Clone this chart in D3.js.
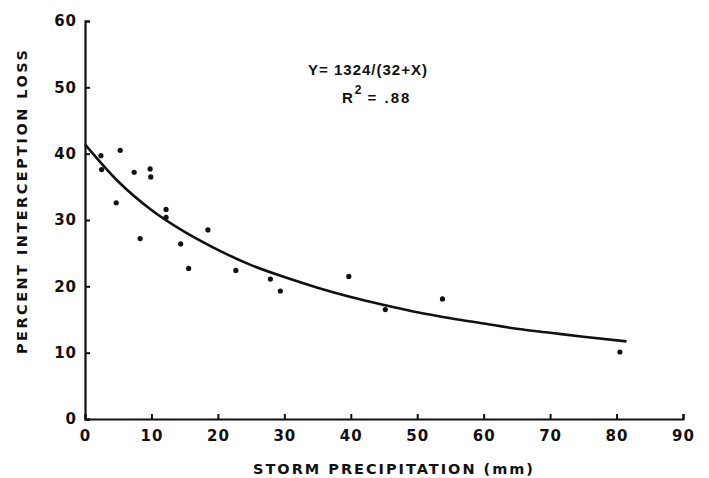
<!DOCTYPE html>
<html>
<head>
<meta charset="utf-8">
<script src="https://cdn.jsdelivr.net/npm/d3@7"></script>
<style>
  html, body { margin: 0; padding: 0; background: #fff; }
  svg { display: block; }
  text { font-family: "DejaVu Sans", "Liberation Sans", Arial, sans-serif; font-weight: bold; fill: #111; }
</style>
</head>
<body>
<svg id="chart" width="709" height="478"></svg>
<script>
// Observed storms: precipitation (mm) and percent interception loss
const stormPrecip = [2.4, 2.5, 5.3, 7.4, 9.8, 9.9, 4.7, 12.2, 12.2, 8.3, 14.4, 18.5, 15.6, 22.7, 27.9, 29.4, 39.7, 45.2, 53.8, 80.5];
const interceptLoss = [39.7, 37.6, 40.5, 37.2, 37.7, 36.5, 32.6, 31.6, 30.4, 27.2, 26.4, 28.5, 22.7, 22.4, 21.1, 19.3, 21.5, 16.5, 18.1, 10.1];

// Fitted curve
const curveX = [0, 5, 10, 15, 20, 25, 30, 35, 40, 45, 50, 55, 60, 65, 70, 75, 81.5];
const curveY = [41.4, 35.8, 31.5, 28.2, 25.5, 23.2, 21.4, 19.8, 18.4, 17.2, 16.1, 15.2, 14.4, 13.6, 13.0, 12.4, 11.7];

const xTicks = [0, 10, 20, 30, 40, 50, 60, 70, 80, 90];
const yTicks = [0, 10, 20, 30, 40, 50, 60];

const xTitle = "STORM PRECIPITATION (mm)";
const yTitle = "PERCENT INTERCEPTION LOSS";
const eqLine1 = "Y= 1324/(32+X)";

const FONT = '"DejaVu Sans", "Liberation Sans", Arial, sans-serif';
const FONT2 = '"Liberation Sans", Arial, sans-serif';
const svg = d3.select("#chart");
const x = d3.scaleLinear().domain([0, 90]).range([85, 683]);
const y = d3.scaleLinear().domain([0, 60]).range([419, 21]);

// Axes
const xAxis = d3.axisBottom(x).tickValues(xTicks).tickSize(-5).tickPadding(11).tickFormat(d3.format("d"));
const yAxis = d3.axisLeft(y).tickValues(yTicks).tickSize(-5).tickPadding(9).tickFormat(d3.format("d"));

const gx = svg.append("g").attr("transform", `translate(0,${y(0)})`).call(xAxis);
const gy = svg.append("g").attr("transform", `translate(${x(0)},0)`).call(yAxis);

[gx, gy].forEach(g => {
  g.select(".domain").attr("stroke", "#111").attr("stroke-width", 2.2);
  g.selectAll(".tick line").attr("stroke", "#111").attr("stroke-width", 2);
  g.selectAll(".tick text")
    .style("font-family", FONT)
    .style("font-weight", "bold")
    .style("font-size", "15px")
    .style("letter-spacing", "1px")
    .attr("fill", "#111");
});
gy.selectAll(".tick text").attr("dx", "1");

// Curve
const line = d3.line().x((d, i) => x(curveX[i])).y(d => y(d)).curve(d3.curveMonotoneX);
svg.append("path")
  .datum(curveY)
  .attr("d", line)
  .attr("fill", "none")
  .attr("stroke", "#111")
  .attr("stroke-width", 2.6);

// Points
svg.append("g").selectAll("circle")
  .data(stormPrecip)
  .join("circle")
  .attr("cx", d => x(d))
  .attr("cy", (d, i) => y(interceptLoss[i]))
  .attr("r", 2.6)
  .attr("fill", "#111");

// Axis titles
svg.append("text")
  .attr("x", 393).attr("y", 474)
  .attr("text-anchor", "middle")
  .attr("textLength", 280).attr("lengthAdjust", "spacing")
  .style("font-size", "14.5px")
  .text(xTitle);

svg.append("text")
  .attr("transform", "translate(27,202) rotate(-90)")
  .attr("text-anchor", "middle")
  .attr("textLength", 304).attr("lengthAdjust", "spacing")
  .style("font-size", "14.5px")
  .text(yTitle);

// Equation annotation
svg.append("text")
  .attr("x", 308).attr("y", 75)
  .attr("textLength", 119).attr("lengthAdjust", "spacing")
  .style("font-family", FONT2)
  .style("font-size", "15px")
  .text(eqLine1);

const r2 = svg.append("text").attr("x", 342).attr("y", 103)
  .style("font-family", FONT2).style("font-size", "15px").style("letter-spacing", "2px");
r2.append("tspan").text("R");
r2.append("tspan").attr("dy", -9).style("font-size", "12px").text("2");
r2.append("tspan").attr("dy", 9).attr("dx", 4).text("= .88");
</script>
</body>
</html>
